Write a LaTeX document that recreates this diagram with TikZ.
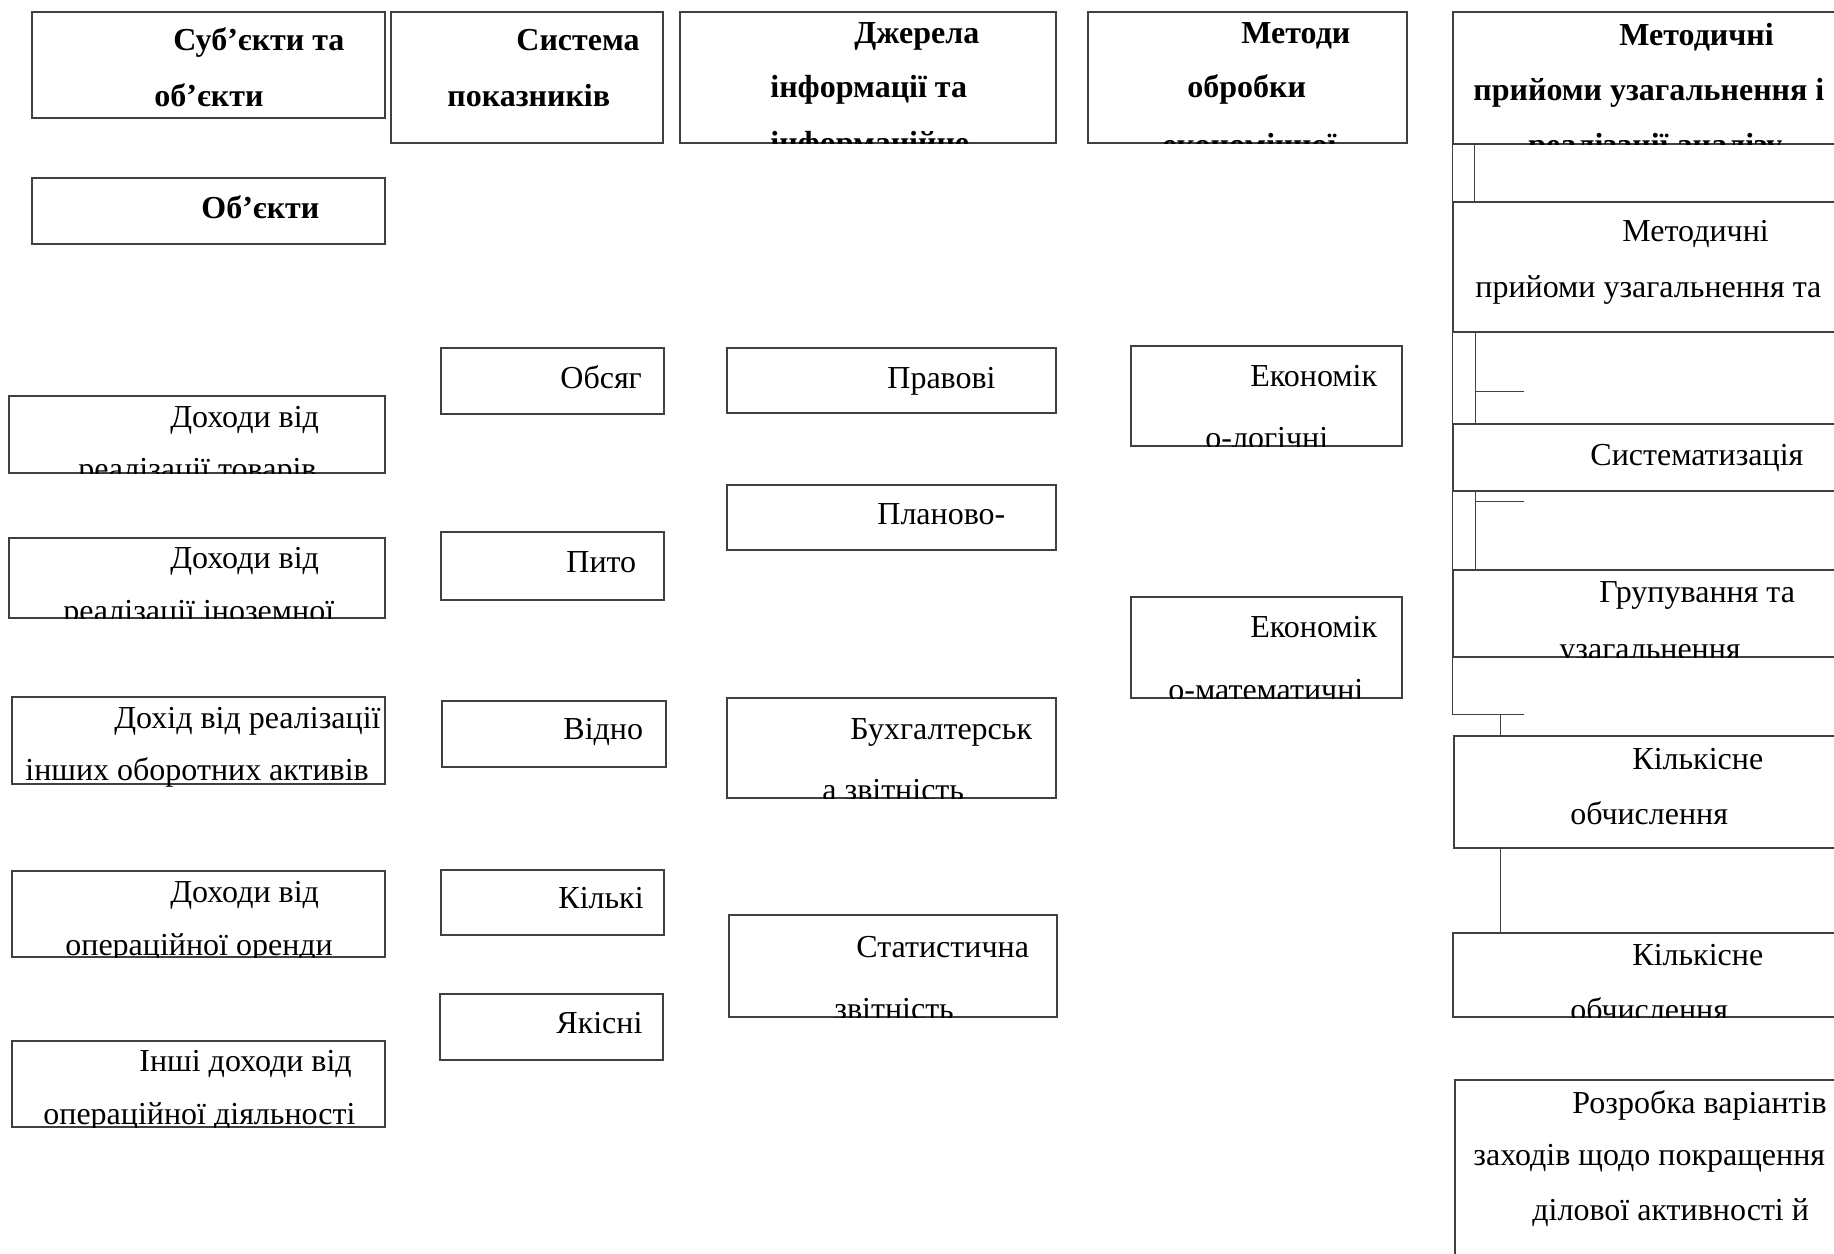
\documentclass[tikz,border=0pt]{standalone}
\usepackage{fontspec}
\setmainfont{Liberation Serif}
\usetikzlibrary{calc,fit}

\tikzset{
	box/.style={draw=black!75, line width=0.7pt, inner sep=0pt},
	lbl/.style={anchor=base west, inner sep=0pt, font=\fontsize{16}{19}\selectfont},
	hdr/.style={lbl, font=\fontsize{16}{19}\selectfont\bfseries},
	wire/.style={draw=black!75, line width=0.7pt}
}

\begin{document}
\begin{tikzpicture}[x=0.5pt, y=-0.5pt]
	\useasboundingbox (0,0) rectangle (1834,1253);
	\clip (0,0) rectangle (1834,1253);

	% Header row
	\node[box, fit={(32,12) (385,118)}] (subj) {};
	\node[hdr] (subj1) at (173,50) {Суб’єкти та};
	\node[hdr] (subj2) at (154,106) {об’єкти};

	\node[box, fit={(391,12) (663,143)}] (ind) {};
	\node[hdr] (ind1) at (516,50) {Система};
	\node[hdr] (ind2) at (447,106) {показників};

	\node[box, fit={(680,12) (1056,143)}] (src) {};
	\node[hdr] (src1) at (854,43) {Джерела};
	\node[hdr] (src2) at (770,97) {інформації та};
	\begin{scope}
		\clip (src.north west) rectangle (src.south east);
		\node[hdr] (src3) at (770,153) {інформаційне};
	\end{scope}

	\node[box, fit={(1088,12) (1407,143)}] (meth) {};
	\node[hdr] (meth1) at (1241,43) {Методи};
	\node[hdr] (meth2) at (1187,97) {обробки};
	\begin{scope}
		\clip (meth.north west) rectangle (meth.south east);
		\node[hdr] (meth3) at (1162,155) {економічної};
	\end{scope}

	\node[box, fit={(1453,12) (1900,144)}] (tech) {};
	\node[hdr] (tech1) at (1619,45) {Методичні};
	\node[hdr] (tech2) at (1473,100) {прийоми узагальнення і};
	\begin{scope}
		\clip (tech.north west) rectangle (tech.south east);
		\node[hdr] (tech3) at (1528,155) {реалізації аналізу};
	\end{scope}

	% Objects
	\node[box, fit={(32,178) (385,244)}] (obj) {};
	\node[hdr] (obj1) at (201,218) {Об’єкти};

	\node[box, fit={(9,396) (385,473)}] (inc1) {};
	\node[lbl] (inc1a) at (170,427) {Доходи від};
	\begin{scope}
		\clip (inc1.north west) rectangle (inc1.south east);
		\node[lbl] (inc1b) at (78,479) {реалізації товарів};
	\end{scope}

	\node[box, fit={(9,538) (385,618)}] (inc2) {};
	\node[lbl] (inc2a) at (170,568) {Доходи від};
	\begin{scope}
		\clip (inc2.north west) rectangle (inc2.south east);
		\node[lbl] (inc2b) at (63,621) {реалізації іноземної};
	\end{scope}

	\node[box, fit={(12,697) (385,784)}] (inc3) {};
	\node[lbl] (inc3a) at (114,728) {Дохід від реалізації};
	\node[lbl] (inc3b) at (25,780) {інших оборотних активів};

	\node[box, fit={(12,871) (385,957)}] (inc4) {};
	\node[lbl] (inc4a) at (170,902) {Доходи від};
	\begin{scope}
		\clip (inc4.north west) rectangle (inc4.south east);
		\node[lbl] (inc4b) at (65,955) {операційної оренди};
	\end{scope}

	\node[box, fit={(12,1041) (385,1127)}] (inc5) {};
	\node[lbl] (inc5a) at (139,1071) {Інші доходи від};
	\begin{scope}
		\clip (inc5.north west) rectangle (inc5.south east);
		\node[lbl] (inc5b) at (43,1124) {операційної діяльності};
	\end{scope}

	% Indicators
	\node[box, fit={(441,348) (664,414)}] (vol) {};
	\node[lbl] (vol1) at (560,388) {Обсяг};
	\node[box, fit={(441,532) (664,600)}] (spec) {};
	\node[lbl] (spec1) at (566,572) {Пито};
	\node[box, fit={(442,701) (666,767)}] (rel) {};
	\node[lbl] (rel1) at (563,739) {Відно};
	\node[box, fit={(441,870) (664,935)}] (quan) {};
	\node[lbl] (quan1) at (558,908) {Кількі};
	\node[box, fit={(440,994) (663,1060)}] (qual) {};
	\node[lbl] (qual1) at (556,1033) {Якісні};

	% Sources
	\node[box, fit={(727,348) (1056,413)}] (law) {};
	\node[lbl] (law1) at (887,388) {Правові};
	\node[box, fit={(727,485) (1056,550)}] (plan) {};
	\node[lbl] (plan1) at (877,524) {Планово-};
	\node[box, fit={(727,698) (1056,798)}] (acc) {};
	\node[lbl] (acc1) at (850,739) {Бухгалтерськ};
	\begin{scope}
		\clip (acc.north west) rectangle (acc.south east);
		\node[lbl] (acc2) at (822,800) {а звітність};
	\end{scope}
	\node[box, fit={(729,915) (1057,1017)}] (stat) {};
	\node[lbl] (stat1) at (856,957) {Статистична};
	\begin{scope}
		\clip (stat.north west) rectangle (stat.south east);
		\node[lbl] (stat2) at (834,1019) {звітність};
	\end{scope}

	% Methods
	\node[box, fit={(1131,346) (1402,446)}] (log) {};
	\node[lbl] (log1) at (1250,386) {Економік};
	\begin{scope}
		\clip (log.north west) rectangle (log.south east);
		\node[lbl] (log2) at (1205,448) {о-логічні};
	\end{scope}
	\node[box, fit={(1131,597) (1402,698)}] (math) {};
	\node[lbl] (math1) at (1250,637) {Економік};
	\begin{scope}
		\clip (math.north west) rectangle (math.south east);
		\node[lbl] (math2) at (1168,700) {о-математичні};
	\end{scope}

	% Techniques column
	\node[box, fit={(1453,202) (1900,332)}] (gen) {};
	\node[lbl] (gen1) at (1622,241) {Методичні};
	\node[lbl] (gen2) at (1475,297) {прийоми узагальнення та};
	\node[box, fit={(1453,424) (1900,491)}] (sys) {};
	\node[lbl] (sys1) at (1590,465) {Систематизація};
	\node[box, fit={(1453,570) (1900,657)}] (grp) {};
	\node[lbl] (grp1) at (1599,602) {Групування та};
	\begin{scope}
		\clip (grp.north west) rectangle (grp.south east);
		\node[lbl] (grp2) at (1559,659) {узагальнення};
	\end{scope}
	\node[box, fit={(1454,736) (1900,848)}] (cnt) {};
	\node[lbl] (cnt1) at (1632,769) {Кількісне};
	\node[lbl] (cnt2) at (1570,824) {обчислення};
	\node[box, fit={(1453,933) (1900,1017)}] (cntb) {};
	\node[lbl] (cntb1) at (1632,965) {Кількісне};
	\begin{scope}
		\clip (cntb.north west) rectangle (cntb.south east);
		\node[lbl] (cntb2) at (1570,1020) {обчислення};
	\end{scope}
	\node[box, fit={(1455,1080) (1900,1300)}] (dev) {};
	\node[lbl] (dev1) at (1572,1113) {Розробка варіантів};
	\node[lbl] (dev2) at (1473,1165) {заходів щодо покращення};
	\node[lbl] (dev3) at (1532,1220) {ділової активності й};

	% Connectors
	\draw[wire] (tech.south west) -- (gen.north west);
	\draw[wire] ($(tech.south west)+(22,0)$) -- ($(gen.north west)+(22,0)$);
	\draw[wire] (gen.south west) -- (sys.north west);
	\draw[wire] ($(gen.south west)+(23,0)$) -- ($(sys.north west)+(23,0)$);
	\draw[wire] ($(gen.south west)+(23,59)$) -- ++(49,0);
	\draw[wire] (sys.south west) -- (grp.north west);
	\draw[wire] ($(sys.south west)+(23,0)$) -- ($(grp.north west)+(23,0)$);
	\draw[wire] ($(sys.south west)+(23,10)$) -- ++(49,0);
	\coordinate (elb) at ($(grp.south west)+(0,57)$);
	\draw[wire] (grp.south west) -- (elb) -- ++(72,0);
	\draw[wire] ($(elb)+(48,0)$) -- ($(cnt.north west)+(47,0)$);
	\draw[wire] ($(cnt.south west)+(47,0)$) -- ($(cntb.north west)+(48,0)$);
\end{tikzpicture}
\end{document}
